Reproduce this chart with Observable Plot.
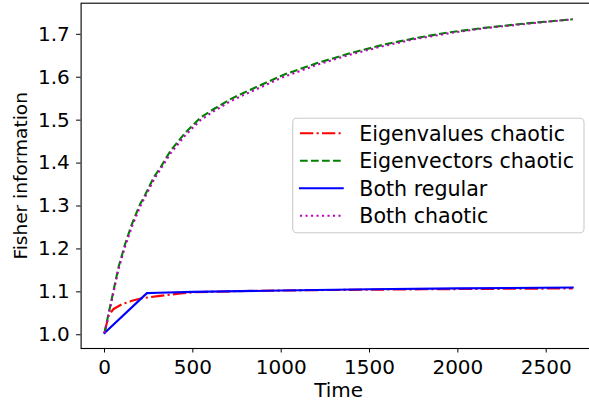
<!DOCTYPE html>
<html>
<head>
<meta charset="utf-8">
<script src="https://cdn.jsdelivr.net/npm/d3@7"></script>
<script src="https://cdn.jsdelivr.net/npm/@observablehq/plot@0.6"></script>
<style>
  html, body { margin: 0; padding: 0; background: white; overflow: hidden; }
  #chart { position: relative; width: 589px; height: 405px; overflow: hidden; }
  #chart svg { max-width: none !important; width: 600px; height: 405px; }
</style>
</head>
<body>
<div id="chart"></div>
<script>
// ---- data ----
const seriesNames = ["Eigenvalues chaotic", "Eigenvectors chaotic", "Both regular", "Both chaotic"];

const eigvalTime  = [0, 23, 51, 98, 155, 211, 302, 430, 505, 800, 1200, 1800, 2650];
const eigvalValue = [1.004, 1.045, 1.060, 1.071, 1.079, 1.085, 1.090, 1.096, 1.099, 1.102, 1.104, 1.106, 1.108];

const eigvecTime  = [0, 23, 51, 79, 117, 155, 202, 223, 279, 317, 374, 458, 543, 619, 713, 789, 1015, 1204, 1392, 1581, 1770, 1958, 2147, 2400, 2650];
const eigvecValue = [1.004, 1.049, 1.103, 1.157, 1.212, 1.258, 1.305, 1.320, 1.367, 1.390, 1.429, 1.471, 1.506, 1.526, 1.549, 1.564, 1.606, 1.633, 1.656, 1.676, 1.692, 1.705, 1.715, 1.726, 1.735];

const regularTime  = [0, 240, 306, 500, 1000, 1500, 2000, 2650];
const regularValue = [1.004, 1.097, 1.098, 1.100, 1.103, 1.106, 1.108, 1.110];

const chaoticTime  = [0, 23, 51, 79, 117, 155, 202, 279, 374, 458, 543, 619, 713, 789, 1015, 1204, 1392, 1581, 1770, 1958, 2147, 2400, 2650];
const chaoticValue = [1.004, 1.046, 1.099, 1.152, 1.206, 1.252, 1.299, 1.361, 1.423, 1.465, 1.500, 1.521, 1.544, 1.559, 1.601, 1.629, 1.653, 1.673, 1.690, 1.703, 1.714, 1.725, 1.735];

const xTicks = [0, 500, 1000, 1500, 2000, 2500];
const yTicks = [1.0, 1.1, 1.2, 1.3, 1.4, 1.5, 1.6, 1.7];

// ---- styles ----
const colors = ["#ff0000", "#008000", "#0000ff", "#bf00bf"];
const dashes = ["13.3,3.3,2.1,3.3", "7.7,3.3", null, "2.1,3.4"];
const LW = 2.1;
const FONT = "DejaVu Sans";
const FS = 20;
const FS_YLABEL = 18.5;
const FS_LEGEND = 20.6;

const toRows = (t, v) => t.map((d, i) => ({t: d, v: v[i]}));
const series = [
  toRows(eigvalTime, eigvalValue),
  toRows(eigvecTime, eigvecValue),
  toRows(regularTime, regularValue),
  toRows(chaoticTime, chaoticValue)
];

const marks = series.map((rows, i) => Plot.line(rows, {
  x: "t", y: "v", stroke: colors[i], strokeWidth: LW,
  strokeDasharray: dashes[i] || undefined,
  strokeLinecap: dashes[i] ? "butt" : "square",
  strokeLinejoin: "round"
}));

const chart = Plot.plot({
  width: 600,
  height: 405,
  marginLeft: 80.6,
  marginRight: 4.4,
  marginTop: 2.7,
  marginBottom: 57,
  style: {fontFamily: FONT, fontSize: FS + "px", background: "white", color: "black", maxWidth: "none"},
  x: {domain: [-132.5, 2782.5]},
  y: {domain: [0.968, 1.7725]},
  marks: [
    ...marks,
    Plot.frame({stroke: "black", strokeWidth: 1.1}),
    Plot.axisX({ticks: xTicks, tickFormat: d => String(d), tickSize: 4.5, tickPadding: 6.5,
      fontSize: FS, label: "Time", labelAnchor: "center", labelArrow: "none", labelOffset: 48}),
    Plot.axisY({ticks: yTicks, tickFormat: d3.format(".1f"), tickSize: 4.5, tickPadding: 6.8,
      fontSize: FS, label: null}),
    Plot.axisY({ticks: [], tickSize: 0, fontSize: FS_YLABEL,
      label: "Fisher information", labelAnchor: "center", labelArrow: "none", labelOffset: 67})
  ]
});

document.getElementById("chart").appendChild(chart);

// ---- legend (drawn in the SVG, matplotlib style) ----
const svg = d3.select(chart);
const lg = svg.append("g").attr("font-family", FONT).attr("font-size", FS_LEGEND).attr("text-anchor", "start");
lg.append("rect")
  .attr("x", 292.7).attr("y", 118.3).attr("width", 291.3).attr("height", 114.4)
  .attr("rx", 4).attr("ry", 4)
  .attr("fill", "white").attr("fill-opacity", 0.8)
  .attr("stroke", "#cccccc").attr("stroke-width", 1.1);
const rowY = [133.3, 160.7, 188.3, 215.7];
seriesNames.forEach((name, i) => {
  lg.append("line")
    .attr("x1", 300).attr("x2", 342.7).attr("y1", rowY[i]).attr("y2", rowY[i])
    .attr("stroke", colors[i]).attr("stroke-width", LW)
    .attr("stroke-dasharray", dashes[i])
    .attr("stroke-linecap", dashes[i] ? "butt" : "square");
  lg.append("text")
    .attr("x", 359.3).attr("y", rowY[i]).attr("dy", "0.35em")
    .attr("text-anchor", "start")
    .attr("fill", "black")
    .text(name);
});
</script>
</body>
</html>
